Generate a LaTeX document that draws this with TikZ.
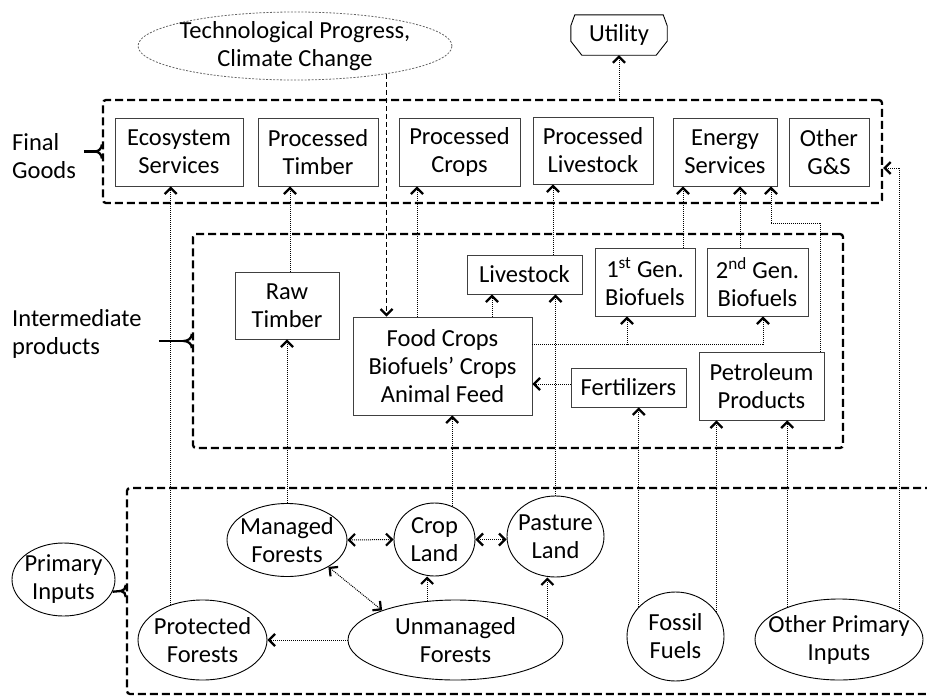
\documentclass[tikz,border=0pt]{standalone}
\usepackage{fontspec}
\setmainfont{Carlito}
\usetikzlibrary{arrows.meta,shapes.geometric}
\begin{document}
\begin{tikzpicture}[x=1pt,y=-1pt,
  every node/.style={font=\fontsize{24.5}{28}\selectfont},
  bx/.style={draw=black!75,line width=0.9pt,inner sep=0pt,align=center},
  el/.style={ellipse,draw=black,line width=0.9pt,inner sep=0pt},
  grp/.style={draw,line width=2.3pt,dash pattern=on 8pt off 4pt,rounded corners=3pt,inner sep=0pt},
  >={Straight Barb[length=6pt,width=12pt,line width=2.2pt]},
  conn/.style={line width=1pt,dash pattern=on 1pt off 1pt,->},
  conn2/.style={line width=1pt,dash pattern=on 1pt off 1pt,<->},
  dconn/.style={line width=1pt,dash pattern=on 5pt off 3pt,->},
  bline/.style={line width=2.3pt}
]
\useasboundingbox (0,0) rectangle (927,696);
\clip (0,0) rectangle (927,696);

% group boxes
\node[grp,minimum width=779pt,minimum height=103pt] (fg) at (492.5,151.5) {};
\node[grp,minimum width=650pt,minimum height=214pt] (ib) at (518,341) {};
\node[grp,minimum width=833pt,minimum height=206pt] (pb) at (543.5,591) {};

% labels
\node[anchor=west,align=left,inner sep=0pt] (fgl) at (12,156) {Final\\Goods};
\node[anchor=west,align=left,inner sep=0pt] (ipl) at (12,334) {Intermediate\\products};

% braces
\draw[bline] ([yshift=7pt]fg.west) to[out=-90,in=0] ([xshift=-7pt]fg.west) to[out=0,in=90] ([yshift=-7pt]fg.west);
\draw[bline] ([xshift=-18pt]fg.west) -- ([xshift=-7pt]fg.west);
\draw[bline] ([yshift=7pt]ib.west) to[out=-90,in=0] ([xshift=-8pt]ib.west) to[out=0,in=90] ([yshift=-7pt]ib.west);
\draw[bline] ([xshift=-33pt]ib.west) -- ([xshift=-8pt]ib.west);
\draw[bline] ([yshift=6pt]pb.west) to[out=-90,in=0] ([xshift=-5pt]pb.west) to[out=0,in=90] ([yshift=-6pt]pb.west);

% top
\node[el,draw=black!60,line width=0.8pt,dash pattern=on 2pt off 1.5pt,minimum width=314pt,minimum height=68pt,
  label={[align=center]center:Technological Progress,\\Climate Change}] (tech) at (295,46) {};
\node[minimum width=96pt,minimum height=40pt,inner sep=0pt] (util) at (619,35) {Utility};
\draw[line width=0.9pt] ([xshift=4pt]util.north west) -- ([xshift=-4pt]util.north east) -- ([yshift=-11pt]util.north east)
  -- ([yshift=14pt]util.south east) -- ([xshift=-11pt]util.south east) -- ([xshift=11pt]util.south west)
  -- ([yshift=14pt]util.south west) -- ([yshift=-11pt]util.north west) -- cycle;

% final goods
\node[bx,minimum width=128pt,minimum height=68pt] (es) at (179,152) {Ecosystem\\Services};
\node[bx,minimum width=120pt,minimum height=68pt] (pt) at (318,152) {Processed\\Timber};
\node[bx,minimum width=121pt,minimum height=68pt] (pc) at (459.5,152) {Processed\\Crops};
\node[bx,minimum width=120pt,minimum height=67pt] (pl) at (593,150.5) {Processed\\Livestock};
\node[bx,minimum width=104pt,minimum height=68pt] (en) at (725,152) {Energy\\Services};
\node[bx,minimum width=80pt,minimum height=68pt] (og) at (829,152) {Other\\G\&S};

% intermediate
\node[bx,minimum width=104pt,minimum height=67pt] (rt) at (287,305.5) {Raw\\Timber};
\node[bx,minimum width=179pt,minimum height=98pt] (fc) at (442.5,366) {Food Crops\\Biofuels’ Crops\\Animal Feed};
\node[bx,minimum width=115pt,minimum height=39pt] (ls) at (524.5,274.5) {Livestock};
\node[bx,minimum width=100pt,minimum height=68pt] (g1) at (645,282) {1\textsuperscript{st} Gen.\\Biofuels};
\node[bx,minimum width=101pt,minimum height=68pt] (g2) at (757.5,282) {2\textsuperscript{nd} Gen.\\Biofuels};
\node[bx,minimum width=115pt,minimum height=39pt] (fe) at (628.5,387.5) {Fertilizers};
\node[bx,minimum width=125pt,minimum height=68pt] (pp) at (761.5,386) {Petroleum\\Products};

% primary
\node[el,minimum width=120pt,minimum height=73pt,label={[align=center]center:Managed\\Forests}] (mf) at (287,540) {};
\node[el,minimum width=81pt,minimum height=73pt,label={[align=center]center:Crop\\Land}] (cl) at (434.5,539.5) {};
\node[el,minimum width=97pt,minimum height=81pt,label={[align=center]center:Pasture\\Land}] (pa) at (555.5,536.5) {};
\node[el,minimum width=129pt,minimum height=80pt,label={[align=center]center:Protected\\Forests}] (pf) at (202.5,640) {};
\node[el,minimum width=215pt,minimum height=80pt,label={[align=center]center:Unmanaged\\Forests}] (uf) at (455.5,640) {};
\node[el,minimum width=97pt,minimum height=89pt,label={[align=center]center:Fossil\\Fuels}] (ff) at (675.5,636.5) {};
\node[el,minimum width=168pt,minimum height=81pt,label={[align=center]center:Other Primary\\Inputs}] (op) at (839,639.5) {};
\node[el,minimum width=103pt,minimum height=73pt,label={[align=center]center:Primary\\Inputs}] (pi) at (63.5,579.5) {};
\draw[bline] (pi.346) -- ([xshift=-5pt]pb.west);

% connectors
\draw[dconn] (tech.343) -- (tech.343 |- fc.north);
\draw[conn] (util.south |- fg.north) -- (util.south);
\draw[conn] (pf.132) -- (pf.132 |- es.south);
\draw[conn] (mf.north) -- (mf.north |- rt.south);
\draw[conn] ([xshift=3pt]rt.north) -- ([xshift=3pt]rt.north |- pt.south);
\draw[conn] ([xshift=-25.5pt]fc.north) -- ([xshift=-25.5pt]fc.north |- pc.south);
\draw[conn] (cl.62) -- (cl.62 |- fc.south);
\draw[conn] ([xshift=49.5pt]fc.north) -- ([xshift=49.5pt]fc.north |- ls.south);
\draw[conn] (pa.north) -- (pa.north |- ls.south);
\draw[conn] ([xshift=28.5pt]ls.north) -- ([xshift=28.5pt]ls.north |- pl.south);
\draw[conn] ([xshift=38pt]g1.north) -- ([xshift=38pt]g1.north |- en.south);
\draw[conn] ([xshift=-17.5pt]g2.north) -- ([xshift=-17.5pt]g2.north |- en.south);
\draw[conn] ([xshift=58.5pt]pp.north) |- ([xshift=46pt,yshift=-37pt]en.south) -- ([xshift=46pt]en.south);
\draw[conn] ([yshift=22pt]fc.east) -| ([xshift=-18pt]g1.south);
\draw[conn] ([yshift=22pt]fc.east) -| ([xshift=5.5pt]g2.south);
\draw[conn] ([yshift=3.5pt]fe.west) -- ([yshift=3.5pt]fe.west -| fc.east);
\draw[conn] (ff.141) -- (ff.141 |- fe.south);
\draw[conn] (ff.31) -- (ff.31 |- pp.south);
\draw[conn] (op.148) -- (op.148 |- pp.south);
\draw[conn] (op.25) |- ([yshift=-16.5pt]fg.east);
\draw[conn2] (mf.east) -- (cl.west);
\draw[conn2] (cl.east) -- (cl.east -| pa.west);
\draw[conn2] (mf.327) -- (uf.158);
\draw[conn] (uf.126) -- (uf.126 |- cl.south);
\draw[conn] (uf.13) -- (uf.13 |- pa.south);
\draw[conn] (uf.west) -- (pf.east);
\end{tikzpicture}
\end{document}
